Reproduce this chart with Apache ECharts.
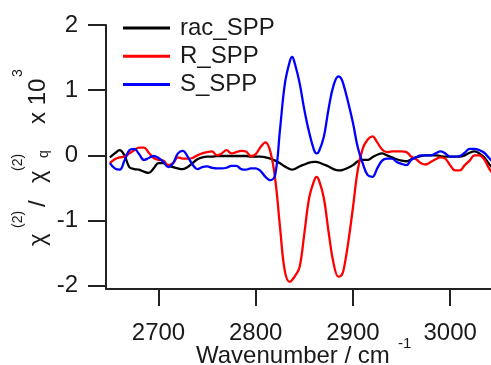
<!DOCTYPE html>
<html>
<head>
<meta charset="utf-8">
<script src="https://cdn.jsdelivr.net/npm/echarts@6/dist/echarts.min.js"></script>
<style>
html,body{margin:0;padding:0;background:#fff;}
#chart{width:491px;height:365px;}
</style>
</head>
<body>
<div id="chart"></div>
<script>
// Wavenumber grid (cm^-1)
const wavenumber = [2650,2655,2660,2665,2670,2675,2680,2685,2690,2695,2700,2705,2710,2715,2720,2725,2730,2735,2740,2745,2750,2755,2760,2765,2770,2775,2780,2785,2790,2795,2800,2805,2810,2815,2820,2825,2830,2835,2837.5,2840,2845,2850,2855,2860,2862.5,2865,2870,2875,2880,2885,2887.5,2890,2895,2900,2905,2910,2915,2920,2925,2930,2935,2940,2945,2950,2955,2960,2965,2970,2975,2980,2985,2990,2995,3000,3005,3010,3015,3020,3025,3030,3035,3040,3045];

const racSPP = [-0.03,0.03,0.08,0.0,-0.18,-0.21,-0.22,-0.25,-0.27,-0.2,-0.12,-0.12,-0.16,-0.18,-0.2,-0.21,-0.18,-0.12,-0.06,-0.03,-0.02,-0.02,-0.01,-0.01,-0.01,-0.01,-0.01,-0.01,-0.01,-0.02,-0.02,-0.02,-0.03,-0.05,-0.08,-0.12,-0.17,-0.21,-0.22,-0.21,-0.17,-0.14,-0.11,-0.1,-0.1,-0.11,-0.14,-0.17,-0.21,-0.23,-0.23,-0.22,-0.19,-0.15,-0.09,-0.07,-0.07,-0.03,0.01,0.03,0.0,-0.03,-0.06,-0.08,-0.09,-0.06,-0.03,-0.01,0.0,0.0,0.0,-0.01,-0.02,-0.02,-0.02,-0.02,0.0,0.04,0.06,0.03,-0.03,-0.13,-0.22];

const rSPP = [-0.12,-0.06,-0.03,-0.02,0.03,0.08,0.12,0.12,0.04,-0.04,-0.07,-0.08,-0.15,-0.12,-0.03,-0.05,-0.05,-0.04,0.0,0.03,0.05,0.06,0.0,0.03,0.08,0.03,0.05,0.07,0.06,-0.01,0.02,0.13,0.2,0.06,-0.36,-1.1,-1.78,-1.94,-1.91,-1.86,-1.72,-1.2,-0.65,-0.39,-0.33,-0.38,-0.65,-1.18,-1.65,-1.86,-1.85,-1.78,-1.35,-0.8,-0.22,0.1,0.24,0.29,0.2,0.09,0.05,0.06,0.06,0.06,0.05,-0.02,-0.06,-0.12,-0.14,-0.1,-0.06,-0.03,-0.05,-0.15,-0.23,-0.23,-0.15,-0.08,0.0,0.0,-0.06,-0.2,-0.3];

const sSPP = [-0.12,-0.2,-0.22,-0.08,0.08,0.1,0.02,-0.07,-0.04,-0.01,-0.04,-0.1,-0.18,-0.12,0.03,0.07,-0.02,-0.14,-0.21,-0.18,-0.17,-0.19,-0.2,-0.2,-0.19,-0.16,-0.16,-0.21,-0.22,-0.2,-0.2,-0.24,-0.33,-0.38,-0.3,0.4,1.1,1.44,1.51,1.42,1.12,0.7,0.35,0.08,0.03,0.06,0.28,0.72,1.07,1.21,1.19,1.1,0.82,0.5,0.12,-0.12,-0.3,-0.33,-0.2,-0.08,-0.05,-0.05,-0.1,-0.13,-0.15,-0.07,-0.03,0.0,0.0,0.0,0.03,0.06,0.03,-0.02,-0.02,-0.01,0.04,0.1,0.1,0.08,0.04,-0.04,-0.12];

const seriesNames = ['rac_SPP','R_SPP','S_SPP'];
const seriesColors = ['#000000','#ff0000','#0000ff'];
const xTicks = [2700,2800,2900,3000];
const yTicks = [-2,-1,0,1,2];

const FONT = 'Liberation Sans, Arial, sans-serif';
const TXT = '#1a1a1a';

const pairs = vals => wavenumber.map((w,i)=>[w, vals[i]]);
const allVals = [racSPP, rSPP, sSPP];

const chart = echarts.init(document.getElementById('chart'), null, {renderer:'canvas'});

function rt(text, x, y, fs, rot){
  return {type:'text', x:x, y:y, rotation: rot||0, silent:true,
    style:{text:text, x:0, y:0, fontSize:fs, fontFamily:FONT, fill:TXT, align:'left', verticalAlign:'middle'}};
}
const R = Math.PI/2;

const option = {
  animation:false,
  backgroundColor:'#fff',
  grid:{left:106, right:0, top:25, bottom:76, containLabel:false},
  legend:{
    orient:'vertical', left:123, top:16, padding:0,
    itemWidth:47, itemHeight:3, itemGap:4.3, icon:'rect',
    data:seriesNames,
    textStyle:{fontSize:24, fontFamily:FONT, color:TXT, lineHeight:24, padding:[0,0,0,5]}
  },
  xAxis:{
    type:'value', min:2646, max:3042,
    axisLine:{show:true, onZero:false, lineStyle:{color:'#222', width:2}},
    axisTick:{show:true, customValues:xTicks, length:17, inside:false, lineStyle:{color:'#222', width:2}},
    axisLabel:{customValues:xTicks, fontSize:24, fontFamily:FONT, color:TXT, margin:32, formatter:v=>String(v)},
    splitLine:{show:false}
  },
  yAxis:{
    type:'value', min:-2.05, max:2,
    axisLine:{show:true, onZero:false, lineStyle:{color:'#222', width:2}},
    axisTick:{show:true, customValues:yTicks, length:18, inside:false, lineStyle:{color:'#222', width:2}},
    axisLabel:{customValues:yTicks, fontSize:24, fontFamily:FONT, color:TXT, margin:28, formatter:v=>String(v)},
    splitLine:{show:false}
  },
  series: seriesNames.map((n,i)=>({
    name:n, type:'line', data:pairs(allVals[i]), smooth:0.4, symbol:'none',
    lineStyle:{color:seriesColors[i], width:2.3}, itemStyle:{color:seriesColors[i]}, clip:true
  })),
  graphic:[
    rt('Wavenumber / cm', 196, 356, 24, 0),
    rt('-1', 398, 344, 15, 0),
    rt('\u03C7', 38.3, 246, 24, R),
    rt('(2)', 18.5, 228, 14, R),
    rt('/', 38.3, 207, 24, R),
    rt('\u03C7', 38.3, 183, 24, R),
    rt('(2)', 18.5, 171, 14, R),
    rt('q', 44, 158, 14, R),
    rt('x 10', 38.3, 124, 24, R),
    rt('3', 18.5, 77, 14, R)
  ]
};
chart.setOption(option);
</script>
</body>
</html>
